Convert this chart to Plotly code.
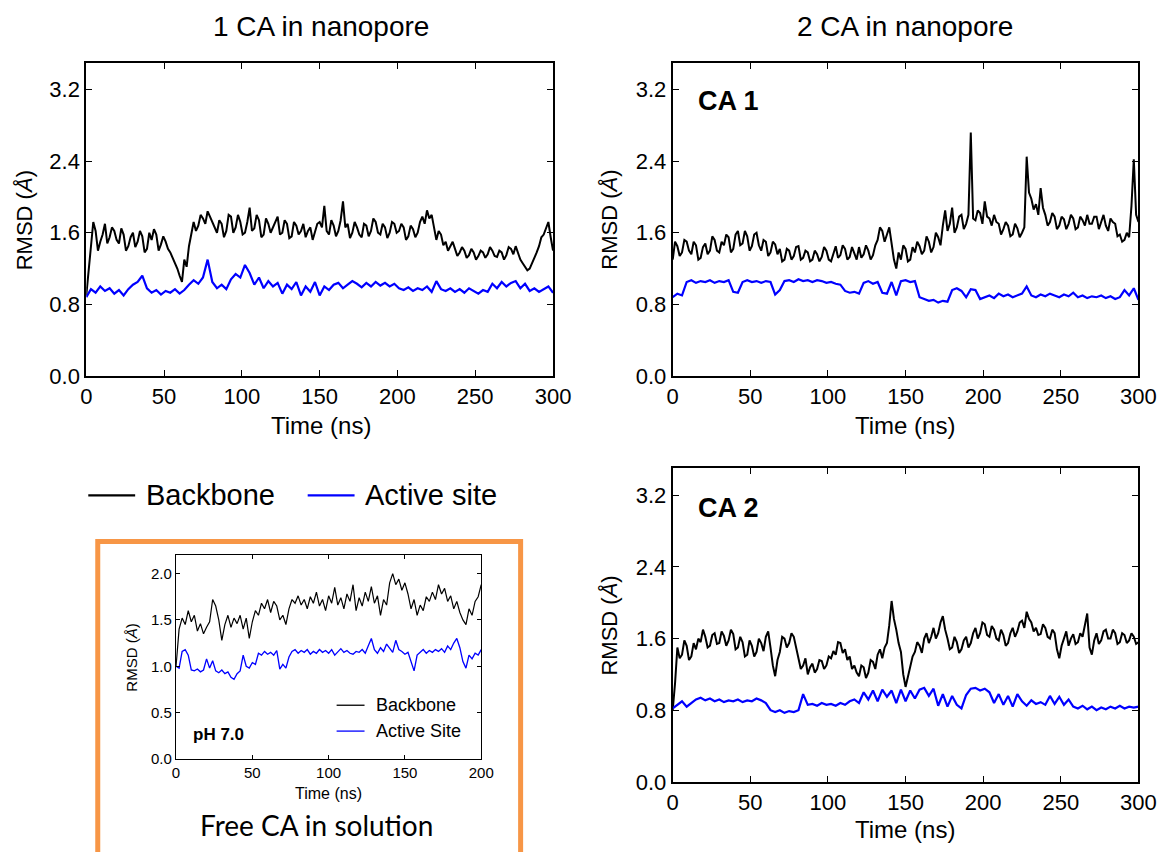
import plotly.graph_objects as go

W, H = 1163, 852
FONT = "Liberation Sans, Arial, sans-serif"

# ---------------- data ----------------
# backbone series of the nanopore panels sampled every 1.5 ns, active-site every 3 ns,
# free-CA inset every 2 ns (0-300 ns and 0-200 ns)
NANO_SPAN = 300
FREE_SPAN = 200

one_ca_backbone = [
    0.90, 1.20, 1.45, 1.72, 1.62, 1.40, 1.50, 1.58, 1.70, 1.48,
    1.55, 1.66, 1.62, 1.52, 1.48, 1.65, 1.58, 1.40, 1.45, 1.55,
    1.60, 1.44, 1.50, 1.62, 1.56, 1.38, 1.42, 1.60, 1.52, 1.64,
    1.58, 1.40, 1.47, 1.56, 1.50, 1.42, 1.38, 1.32, 1.28, 1.20,
    1.12, 1.05, 1.30, 1.22, 1.45, 1.58, 1.72, 1.62, 1.68, 1.80,
    1.76, 1.70, 1.84, 1.78, 1.72, 1.66, 1.60, 1.74, 1.70, 1.55,
    1.62, 1.80, 1.78, 1.60, 1.66, 1.80, 1.72, 1.58, 1.60, 1.72,
    1.88, 1.62, 1.65, 1.80, 1.74, 1.55, 1.58, 1.76, 1.70, 1.60,
    1.66, 1.72, 1.78, 1.58, 1.60, 1.74, 1.70, 1.54, 1.56, 1.72,
    1.68, 1.58, 1.62, 1.70, 1.55, 1.62, 1.66, 1.52, 1.60, 1.70,
    1.72, 1.66, 1.90, 1.62, 1.58, 1.74, 1.68, 1.56, 1.62, 1.74,
    1.95, 1.66, 1.70, 1.54, 1.60, 1.72, 1.66, 1.58, 1.55, 1.70,
    1.68, 1.56, 1.62, 1.76, 1.72, 1.60, 1.58, 1.70, 1.66, 1.54,
    1.60, 1.72, 1.70, 1.60, 1.62, 1.70, 1.66, 1.52, 1.56, 1.68,
    1.64, 1.55, 1.60, 1.72, 1.78, 1.70, 1.85, 1.76, 1.80, 1.66,
    1.52, 1.62, 1.58, 1.46, 1.50, 1.40, 1.46, 1.50, 1.42, 1.34,
    1.38, 1.44, 1.40, 1.32, 1.35, 1.42, 1.38, 1.30, 1.34, 1.40,
    1.38, 1.32, 1.36, 1.44, 1.40, 1.34, 1.33, 1.40, 1.38, 1.30,
    1.35, 1.44, 1.42, 1.36, 1.45, 1.38, 1.30, 1.26, 1.22, 1.18,
    1.20, 1.26, 1.30, 1.38, 1.45, 1.55, 1.58, 1.65, 1.72, 1.55,
    1.40]
one_ca_active = [0.88, 0.97, 0.93, 1.00, 0.95, 0.98, 0.92, 0.96, 0.90, 0.97, 1.02, 1.05, 1.12, 0.98, 0.93, 0.96,
                 0.91, 0.95, 0.93, 0.97, 0.92, 0.96, 1.02, 1.07, 1.03, 1.10, 1.30, 1.05, 0.98, 1.02, 0.97, 1.08,
                 1.14, 1.10, 1.24, 1.15, 1.02, 1.10, 0.98, 1.06, 1.00, 1.04, 0.92, 1.02, 0.97, 1.05, 0.90, 1.00,
                 0.94, 1.05, 0.90, 1.00, 0.96, 1.02, 1.04, 0.98, 1.02, 1.06, 1.03, 0.99, 1.04, 1.00, 1.05, 1.01,
                 1.04, 1.00, 1.03, 0.98, 0.96, 0.99, 0.95, 0.98, 0.96, 1.00, 0.94, 1.06, 0.97, 0.95, 0.98, 0.94,
                 0.97, 0.93, 0.98, 0.95, 0.92, 0.96, 0.94, 1.03, 0.98, 1.05, 1.00, 1.04, 1.06, 0.98, 1.03, 0.95,
                 0.98, 0.94, 0.97, 1.00, 0.93]

ca1_backbone = [
    1.30, 1.50, 1.45, 1.34, 1.38, 1.52, 1.50, 1.40, 1.36, 1.50,
    1.46, 1.30, 1.32, 1.44, 1.48, 1.36, 1.40, 1.56, 1.52, 1.40,
    1.38, 1.50, 1.46, 1.58, 1.55, 1.38, 1.42, 1.58, 1.62, 1.46,
    1.48, 1.62, 1.56, 1.40, 1.45, 1.58, 1.60, 1.46, 1.40, 1.52,
    1.50, 1.34, 1.38, 1.50, 1.47, 1.36, 1.42, 1.28, 1.30, 1.42,
    1.40, 1.30, 1.34, 1.44, 1.45, 1.30, 1.32, 1.40, 1.38, 1.28,
    1.30, 1.40, 1.36, 1.28, 1.33, 1.44, 1.40, 1.30, 1.28, 1.38,
    1.45, 1.32, 1.35, 1.46, 1.42, 1.30, 1.33, 1.44, 1.38, 1.30,
    1.44, 1.32, 1.36, 1.46, 1.40, 1.30, 1.35, 1.46, 1.52, 1.66,
    1.62, 1.50, 1.58, 1.66, 1.48, 1.30, 1.20, 1.38, 1.30, 1.46,
    1.42, 1.28, 1.30, 1.44, 1.38, 1.50, 1.45, 1.36, 1.40, 1.56,
    1.50, 1.38, 1.44, 1.60, 1.55, 1.46, 1.68, 1.85, 1.62, 1.70,
    1.88, 1.60, 1.66, 1.78, 1.80, 1.64, 1.70, 1.80, 2.72, 1.76,
    1.74, 1.85, 1.82, 1.70, 1.95, 1.78, 1.76, 1.68, 1.80, 1.72,
    1.70, 1.58, 1.64, 1.72, 1.68, 1.56, 1.58, 1.70, 1.65, 1.55,
    1.60, 1.66, 2.45, 2.05, 1.98, 1.86, 1.92, 1.80, 2.10, 1.88,
    1.80, 1.68, 1.72, 1.82, 1.78, 1.64, 1.68, 1.78, 1.75, 1.64,
    1.70, 1.80, 1.76, 1.64, 1.66, 1.78, 1.74, 1.68, 1.80, 1.70,
    1.70, 1.78, 1.78, 1.64, 1.72, 1.80, 1.68, 1.62, 1.76, 1.72,
    1.70, 1.56, 1.58, 1.50, 1.52, 1.60, 1.55, 1.90, 2.42, 1.80,
    1.72]
ca1_active = [0.88, 0.92, 0.90, 1.05, 1.07, 1.04, 1.06, 1.05, 1.07, 1.04, 1.06, 1.05, 1.07, 0.94, 0.93, 1.05,
              1.07, 1.05, 1.06, 1.04, 1.06, 1.05, 0.91, 0.96, 1.06, 1.07, 1.05, 1.08, 1.06, 1.07, 1.05, 1.07,
              1.06, 1.04, 1.05, 1.03, 1.02, 0.95, 0.93, 0.94, 0.92, 1.04, 1.06, 1.03, 1.05, 0.93, 0.92, 1.05,
              0.90, 1.06, 1.07, 1.05, 1.06, 0.88, 0.86, 0.84, 0.85, 0.82, 0.84, 0.83, 0.96, 0.98, 0.95, 0.88,
              0.97, 0.96, 0.86, 0.88, 0.90, 0.87, 0.92, 0.89, 0.91, 0.88, 0.90, 0.92, 1.00, 0.90, 0.88, 0.91,
              0.89, 0.92, 0.90, 0.88, 0.91, 0.89, 0.93, 0.88, 0.90, 0.87, 0.89, 0.88, 0.90, 0.87, 0.89, 0.86,
              0.88, 0.96, 0.90, 0.98, 0.85]

ca2_backbone = [
    0.80, 1.10, 1.50, 1.38, 1.42, 1.58, 1.52, 1.36, 1.40, 1.55,
    1.48, 1.60, 1.56, 1.70, 1.62, 1.50, 1.52, 1.64, 1.66, 1.54,
    1.55, 1.68, 1.63, 1.52, 1.58, 1.70, 1.65, 1.48, 1.50, 1.62,
    1.56, 1.40, 1.42, 1.58, 1.52, 1.40, 1.45, 1.60, 1.55, 1.46,
    1.62, 1.68, 1.50, 1.30, 1.18, 1.36, 1.45, 1.62, 1.60, 1.50,
    1.55, 1.66, 1.62, 1.50, 1.38, 1.26, 1.30, 1.38, 1.20, 1.28,
    1.32, 1.22, 1.26, 1.36, 1.35, 1.26, 1.30, 1.40, 1.38, 1.46,
    1.42, 1.56, 1.55, 1.44, 1.48, 1.36, 1.40, 1.26, 1.30, 1.22,
    1.18, 1.30, 1.28, 1.16, 1.22, 1.36, 1.34, 1.26, 1.42, 1.48,
    1.38, 1.50, 1.55, 1.75, 2.02, 1.82, 1.70, 1.55, 1.45, 1.20,
    1.06, 1.18, 1.30, 1.40, 1.45, 1.56, 1.52, 1.44, 1.60, 1.66,
    1.55, 1.62, 1.72, 1.60, 1.66, 1.78, 1.85, 1.70, 1.60, 1.48,
    1.50, 1.62, 1.56, 1.44, 1.48, 1.58, 1.62, 1.50, 1.55, 1.66,
    1.72, 1.60, 1.66, 1.78, 1.76, 1.64, 1.62, 1.74, 1.70, 1.60,
    1.58, 1.70, 1.64, 1.52, 1.55, 1.66, 1.72, 1.62, 1.68, 1.78,
    1.80, 1.72, 1.90, 1.82, 1.78, 1.68, 1.72, 1.64, 1.65, 1.76,
    1.72, 1.62, 1.60, 1.70, 1.66, 1.48, 1.38, 1.52, 1.60, 1.68,
    1.52, 1.60, 1.65, 1.54, 1.56, 1.66, 1.62, 1.74, 1.88, 1.50,
    1.42, 1.58, 1.66, 1.54, 1.58, 1.68, 1.70, 1.60, 1.60, 1.70,
    1.66, 1.54, 1.56, 1.66, 1.64, 1.55, 1.58, 1.66, 1.62, 1.54,
    1.56]
ca2_active = [0.82, 0.86, 0.90, 0.84, 0.88, 0.92, 0.94, 0.91, 0.93, 0.90, 0.92, 0.89, 0.91, 0.90, 0.92, 0.89,
              0.91, 0.90, 0.93, 0.91, 0.88, 0.80, 0.78, 0.80, 0.77, 0.79, 0.78, 0.80, 0.98, 0.86, 0.87, 0.85,
              0.88, 0.86, 0.87, 0.85, 0.88, 0.86, 0.90, 0.92, 0.88, 1.00, 0.92, 1.02, 0.90, 1.03, 0.95, 1.02,
              0.88, 1.03, 0.90, 1.02, 0.93, 1.03, 1.05, 0.96, 1.04, 0.85, 0.98, 0.84, 0.96, 0.86, 0.82, 0.97,
              1.04, 1.05, 1.02, 1.04, 1.00, 0.88, 0.98, 0.86, 0.96, 0.84, 0.98, 0.90, 0.85, 0.91, 0.87, 0.89,
              0.86, 0.96, 0.87, 0.95, 0.86, 0.92, 0.84, 0.82, 0.85, 0.81, 0.84, 0.80, 0.83, 0.81, 0.84, 0.82,
              0.85, 0.82, 0.84, 0.83, 0.84]

free_backbone = [1.00, 1.40, 1.52, 1.45, 1.60, 1.48, 1.55, 1.38, 1.46, 1.35, 1.42, 1.48, 1.72, 1.65, 1.50, 1.28,
                 1.45, 1.55, 1.42, 1.52, 1.46, 1.55, 1.40, 1.52, 1.30, 1.48, 1.60, 1.55, 1.68, 1.62, 1.72, 1.58,
                 1.70, 1.65, 1.50, 1.55, 1.45, 1.62, 1.72, 1.68, 1.76, 1.66, 1.72, 1.62, 1.75, 1.68, 1.80, 1.65,
                 1.72, 1.60, 1.76, 1.68, 1.85, 1.66, 1.74, 1.62, 1.78, 1.70, 1.88, 1.60, 1.74, 1.65, 1.80, 1.70,
                 1.86, 1.68, 1.76, 1.55, 1.72, 1.66, 1.90, 2.00, 1.88, 1.94, 1.82, 1.90, 1.78, 1.62, 1.72, 1.55,
                 1.66, 1.60, 1.75, 1.70, 1.80, 1.72, 1.88, 1.78, 1.84, 1.70, 1.76, 1.62, 1.70, 1.58, 1.50, 1.45,
                 1.62, 1.55, 1.70, 1.75, 1.88]
free_active = [1.00, 0.98, 1.16, 1.18, 1.12, 0.96, 0.95, 0.97, 0.94, 0.96, 1.08, 0.98, 1.06, 0.95, 0.93, 0.96,
               0.92, 0.94, 0.88, 0.86, 0.92, 0.95, 1.12, 1.00, 0.98, 1.04, 1.02, 1.14, 1.12, 1.16, 1.13, 1.15,
               1.12, 1.17, 0.97, 1.02, 0.98, 1.10, 1.16, 1.18, 1.14, 1.17, 1.15, 1.18, 1.13, 1.16, 1.14, 1.18,
               1.15, 1.17, 1.14, 1.18, 1.12, 1.16, 1.19, 1.15, 1.17, 1.14, 1.13, 1.16, 1.15, 1.18, 1.14, 1.22,
               1.30, 1.18, 1.14, 1.20, 1.16, 1.24, 1.20, 1.15, 1.28, 1.18, 1.16, 1.13, 1.15, 1.05, 0.95, 1.12,
               1.15, 1.18, 1.14, 1.17, 1.15, 1.18, 1.16, 1.19, 1.15, 1.22, 1.18, 1.25, 1.30, 1.20, 1.05, 0.98,
               1.12, 1.08, 1.14, 1.12, 1.18]

nano_xticks = [0, 50, 100, 150, 200, 250, 300]
nano_yticks = [0.0, 0.8, 1.6, 2.4, 3.2]
free_xticks = [0, 50, 100, 150, 200]
free_yticks = [0.0, 0.5, 1.0, 1.5, 2.0]


def times(vals, span):
    n = len(vals) - 1
    return [span * i / n for i in range(len(vals))]


# pixel -> paper helpers (with a small calibration for the rendered page)
SX, OX = 0.982, 5.5
SY, OY = 0.99, -1.0


def fx(x):
    return ((x - OX) / SX) / W


def fy(y):
    return 1 - ((y - OY) / SY) / H


BLACK = "#000000"
BLUE = "#0000FF"

fig = go.Figure()

panels = [
    ("x", "y", one_ca_backbone, one_ca_active, NANO_SPAN, 2.0),
    ("x2", "y2", ca1_backbone, ca1_active, NANO_SPAN, 2.0),
    ("x3", "y3", ca2_backbone, ca2_active, NANO_SPAN, 2.0),
    ("x4", "y4", free_backbone, free_active, FREE_SPAN, 1.2),
]
for xa, ya, bb, act, span, lw in panels:
    fig.add_trace(go.Scatter(x=times(bb, span), y=bb, mode="lines", line=dict(color=BLACK, width=lw),
                             xaxis=xa, yaxis=ya, showlegend=False, hoverinfo="skip"))
    fig.add_trace(go.Scatter(x=times(act, span), y=act, mode="lines", line=dict(color=BLUE, width=lw * 1.1),
                             xaxis=xa, yaxis=ya, showlegend=False, hoverinfo="skip"))


def axis(domain, rng, tickvals, fmt, size, anchor, lw=2, tlen=6):
    return dict(domain=domain, range=rng, tickvals=tickvals, tickformat=fmt, anchor=anchor,
                showline=True, linecolor="black", linewidth=lw, mirror="allticks",
                ticks="inside", ticklen=tlen, tickwidth=1.3, tickcolor="black",
                showgrid=False, zeroline=False,
                tickfont=dict(family=FONT, size=size, color="black"))


TOP_Y = [fy(377), fy(62)]
BOT_Y = [fy(785), fy(470)]
LEFT_X = [fx(86), fx(554)]
RIGHT_X = [fx(674), fx(1141)]
INS_X = [fx(176), fx(482)]
INS_Y = [fy(762), fy(557)]

fig.update_layout(
    width=W, height=H, autosize=False,
    margin=dict(l=0, r=0, t=0, b=0, pad=0),
    paper_bgcolor="white", plot_bgcolor="white",
    xaxis=axis(LEFT_X, [0, 300], nano_xticks, "d", 22, "y"),
    yaxis=axis(TOP_Y, [0, 3.5], nano_yticks, ".1f", 22, "x"),
    xaxis2=axis(RIGHT_X, [0, 300], nano_xticks, "d", 22, "y2"),
    yaxis2=axis(TOP_Y, [0, 3.5], nano_yticks, ".1f", 22, "x2"),
    xaxis3=axis(RIGHT_X, [0, 300], nano_xticks, "d", 22, "y3"),
    yaxis3=axis(BOT_Y, [0, 3.5], nano_yticks, ".1f", 22, "x3"),
    xaxis4=axis(INS_X, [0, 200], free_xticks, "d", 15, "y4", lw=1.3, tlen=4),
    yaxis4=axis(INS_Y, [0, 2.2], free_yticks, ".1f", 15, "x4", lw=1.3, tlen=4),
)

ann = []


def text(x, y, s, size, xanchor="center", bold=False, angle=0, family=FONT):
    ann.append(dict(x=fx(x), y=fy(y), xref="paper", yref="paper", text=("<b>%s</b>" % s) if bold else s,
                    showarrow=False, xanchor=xanchor, yanchor="middle", textangle=angle,
                    font=dict(family=family, size=size, color="black")))


# column titles
text(321, 26, "1 CA in nanopore", 28)
text(907, 26, "2 CA in nanopore", 28)
# axis titles main panels
text(321, 427, "Time (ns)", 24)
text(907, 427, "Time (ns)", 24)
text(907, 833, "Time (ns)", 24)
text(24, 220, "RMSD (<i>Å</i>)", 22, angle=-90)
text(611, 220, "RMSD (<i>Å</i>)", 22, angle=-90)
text(611, 628, "RMSD (<i>Å</i>)", 22, angle=-90)
# panel labels
text(697, 101, "CA 1", 27, xanchor="left", bold=True)
text(697, 510, "CA 2", 27, xanchor="left", bold=True)
# main legend
text(144, 497, "Backbone", 29, xanchor="left")
text(363, 497, "Active site", 29, xanchor="left")
# inset texts
text(329, 797, "Time (ns)", 16)
text(131, 660, "RMSD (<i>Å</i>)", 15, angle=-90)
text(374, 708, "Backbone", 18, xanchor="left")
text(374, 734, "Active Site", 18, xanchor="left")
text(191, 737, "pH 7.0", 17, xanchor="left", bold=True)
text(317, 828, "Free CA in solution", 28, family="Lato, Carlito, Calibri, sans-serif")

shapes = [
    dict(type="line", xref="paper", yref="paper", x0=fx(88), x1=fx(135), y0=fy(497), y1=fy(497),
         line=dict(color=BLACK, width=2.4)),
    dict(type="line", xref="paper", yref="paper", x0=fx(308), x1=fx(355), y0=fy(497), y1=fy(497),
         line=dict(color=BLUE, width=2.4)),
    dict(type="line", xref="paper", yref="paper", x0=fx(337), x1=fx(365), y0=fy(708), y1=fy(708),
         line=dict(color=BLACK, width=1.3)),
    dict(type="line", xref="paper", yref="paper", x0=fx(337), x1=fx(365), y0=fy(734), y1=fy(734),
         line=dict(color=BLUE, width=1.3)),
    dict(type="rect", xref="paper", yref="paper", x0=fx(97.5), x1=fx(521.5), y0=fy(543.5), y1=fy(880),
         line=dict(color="#F79646", width=5), fillcolor="rgba(0,0,0,0)", layer="below"),
]

fig.update_layout(annotations=ann, shapes=shapes)
fig.write_html(
    "out.html",
    config={"responsive": False, "displayModeBar": False},
    post_script="document.body.style.margin='0px';document.body.style.padding='0px';"
                "document.body.style.overflow='hidden';",
)
